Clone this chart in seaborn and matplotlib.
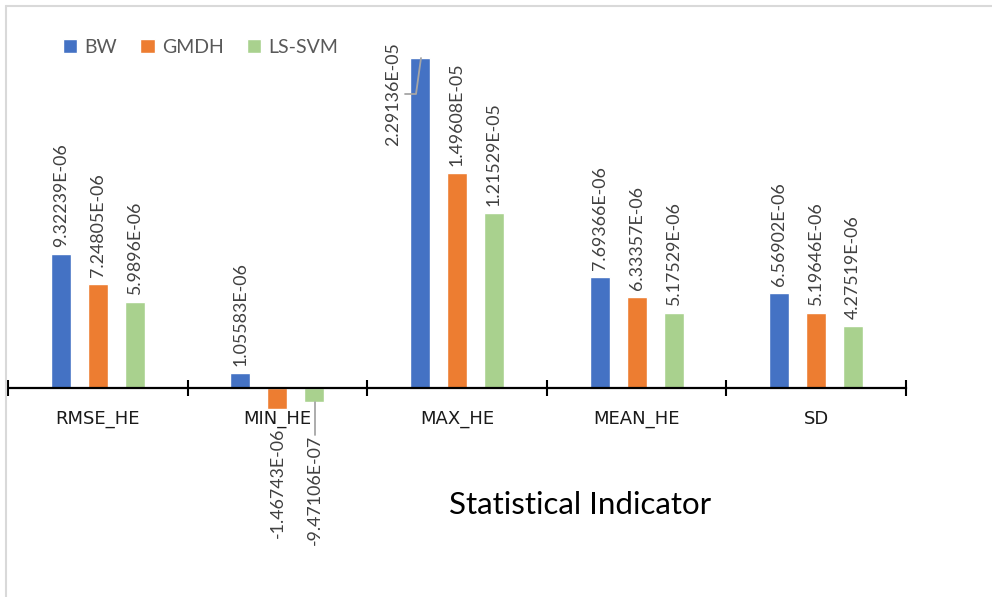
import numpy as np
import pandas as pd
import matplotlib
matplotlib.use("Agg")
import matplotlib.pyplot as plt
import matplotlib.transforms as mtransforms
from matplotlib.lines import Line2D
import seaborn as sns

categories = ["RMSE_HE", "MIN_HE", "MAX_HE", "MEAN_HE", "SD"]
models = ["BW", "GMDH", "LS-SVM"]
bw = [9.32239e-06, 1.05583e-06, 2.29136e-05, 7.69366e-06, 6.56902e-06]
gmdh = [7.24805e-06, -1.46743e-06, 1.49608e-05, 6.33357e-06, 5.19646e-06]
lssvm = [5.9896e-06, -9.47106e-07, 1.21529e-05, 5.17529e-06, 4.27519e-06]
labels = {
    "BW": ["9.32239E-06", "1.05583E-06", "2.29136E-05", "7.69366E-06", "6.56902E-06"],
    "GMDH": ["7.24805E-06", "-1.46743E-06", "1.49608E-05", "6.33357E-06", "5.19646E-06"],
    "LS-SVM": ["5.9896E-06", "-9.47106E-07", "1.21529E-05", "5.17529E-06", "4.27519E-06"],
}
colors = ["#4472C4", "#ED7D31", "#A9D18E"]
xlabel = "Statistical Indicator"

df = pd.DataFrame({
    "Indicator": categories * 3,
    "Model": [m for m in models for _ in categories],
    "Value": bw + gmdh + lssvm,
})

sns.set_theme(style="white")
plt.rcParams["font.family"] = ["Lato", "DejaVu Sans"]

W, H = 992, 597
fig = plt.figure(figsize=(W / 100, H / 100), dpi=100)
ax_top_px, ax_bot_px, zero_px, max_px = 30, 415, 388, 58
ax = fig.add_axes([8 / W, (H - ax_bot_px) / H, 898 / W, (ax_bot_px - ax_top_px) / H])

sns.barplot(data=df, x="Indicator", y="Value", hue="Model", palette=colors,
            width=0.618, gap=0.46, ax=ax, legend=True, saturation=1)

vmax = max(bw)
scale = (zero_px - max_px) / vmax
ax.set_ylim(-(ax_bot_px - zero_px) / scale, (zero_px - ax_top_px) / scale)
ax.set_xlim(-0.5, len(categories) - 0.5)

for s in ["top", "right", "left"]:
    ax.spines[s].set_visible(False)
ax.spines["bottom"].set_position(("data", 0))
ax.spines["bottom"].set_color("black")
ax.spines["bottom"].set_linewidth(1.6)
ax.set_yticks([])
ax.set_xticks(np.arange(-0.5, len(categories), 1.0))
ax.set_xticklabels([])
ax.tick_params(axis="x", which="major", direction="inout", length=12, width=1.5,
               color="black", bottom=True)
ax.set_xticks(np.arange(len(categories)), minor=True)
ax.set_xticklabels(categories, minor=True, fontsize=13, color="#1a1a1a",
                   family=["DejaVu Sans"])
ax.tick_params(axis="x", which="minor", length=0, pad=16)
ax.set_xlabel("")
ax.set_ylabel("")

# value labels
gray = "#A6A6A6"
fs = 12.8
special = {}
for ci, (model, cont) in enumerate(zip(models, ax.containers)):
    for i, bar in enumerate(cont.patches):
        v = bar.get_height()
        xc = bar.get_x() + bar.get_width() / 2
        txt = labels[model][i]
        if model == "BW" and v == vmax:
            ax.annotate(txt, (xc, v), xytext=(-27, -36), textcoords="offset pixels",
                        rotation=90, ha="center", va="center", fontsize=fs,
                        color="#404040")
            special["max"] = (xc, v)
        elif v >= 0:
            ax.annotate(txt, (xc, v), xytext=(0, 7), textcoords="offset pixels",
                        rotation=90, ha="center", va="bottom", fontsize=fs,
                        color="#404040")
        else:
            off = 18 if model == "GMDH" else 33
            ax.annotate(txt, (xc, v), xytext=(0, -off), textcoords="offset pixels",
                        rotation=90, ha="center", va="top", fontsize=fs,
                        color="#404040")
            if model == "LS-SVM":
                special["neg"] = (xc, v, off)

# leader lines (display pixel coords)
ident = mtransforms.IdentityTransform()
if "max" in special:
    px, py = ax.transData.transform(special["max"])
    fig.add_artist(Line2D([px - 15, px - 4, px + 1], [py - 36, py - 36, py],
                          color=gray, lw=1.3, transform=ident))
if "neg" in special:
    xc, v, off = special["neg"]
    px, py = ax.transData.transform((xc, v))
    fig.add_artist(Line2D([px + 1, px + 1], [py, py - off], color=gray, lw=1.3,
                          transform=ident))

# legend
leg = ax.legend(loc="upper left", bbox_to_anchor=(55 / W, 1 - 31 / H),
                bbox_transform=fig.transFigure, ncol=3, frameon=False,
                fontsize=14, handlelength=0.75, handleheight=0.75,
                handletextpad=0.35, columnspacing=1.2, borderaxespad=0)
for t in leg.get_texts():
    t.set_color("#595959")

fig.text(580 / W, 1 - 505 / H, xlabel, ha="center", va="center", fontsize=22.5,
         color="black")

# chart frame (partially visible)
fig.add_artist(Line2D([6 / W, 6 / W], [0, 1 - 6 / H], color="#D9D9D9", lw=1.5,
                      transform=fig.transFigure))
fig.add_artist(Line2D([6 / W, 1], [1 - 6 / H, 1 - 6 / H], color="#D9D9D9", lw=1.5,
                      transform=fig.transFigure))

fig.savefig("out.png", dpi=100, facecolor="white")
